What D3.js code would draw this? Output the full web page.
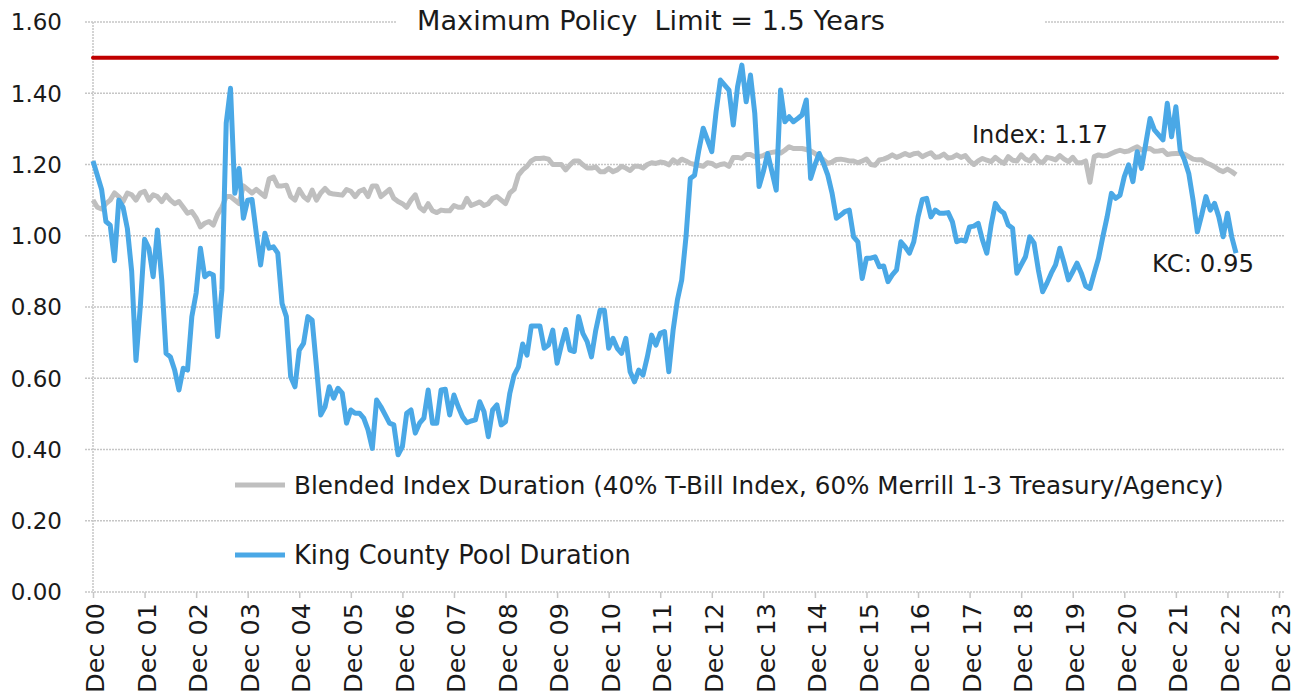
<!DOCTYPE html>
<html>
<head>
<meta charset="utf-8">
<script src="https://cdn.jsdelivr.net/npm/d3@7"></script>
<style>
  body { margin: 0; background: #fff; }
  text { font-family: "DejaVu Sans", "Liberation Sans", sans-serif; fill: #1a1a1a; }
</style>
</head>
<body>
<svg id="chart"></svg>
<script>
// monthly durations, Dec 2000 .. Feb 2023 (one row per year, Dec..Nov)
let kcDuration = [
  1.21, 1.17, 1.13, 1.04, 1.03, 0.93, 1.10, 1.08, 1.02, 0.90, 0.65, 0.80,
  0.99, 0.965, 0.885, 1.016, 0.876, 0.67, 0.66, 0.623, 0.567, 0.628, 0.623, 0.773,
  0.839, 0.965, 0.885, 0.895, 0.89, 0.717, 0.848, 1.316, 1.414, 1.119, 1.189, 1.049,
  1.10, 1.102, 1.007, 0.918, 1.007, 0.965, 0.969, 0.951, 0.81, 0.773, 0.604, 0.576,
  0.679, 0.698, 0.773, 0.763, 0.632, 0.497, 0.52, 0.576, 0.544, 0.572, 0.558, 0.474,
  0.511, 0.502, 0.502, 0.488, 0.455, 0.403, 0.539, 0.52, 0.497, 0.474, 0.469, 0.385,
  0.408, 0.502, 0.511, 0.446, 0.474, 0.488, 0.567, 0.474, 0.474, 0.567, 0.569, 0.497,
  0.553, 0.52, 0.492, 0.475, 0.48, 0.483, 0.534, 0.506, 0.436, 0.511, 0.525, 0.469,
  0.478, 0.558, 0.609, 0.632, 0.696, 0.665, 0.747, 0.747, 0.747, 0.684, 0.693, 0.735,
  0.642, 0.693, 0.737, 0.679, 0.675, 0.773, 0.726, 0.703, 0.66, 0.735, 0.791, 0.791,
  0.684, 0.712, 0.684, 0.67, 0.712, 0.618, 0.59, 0.623, 0.609, 0.66, 0.721, 0.693,
  0.726, 0.731, 0.618, 0.735, 0.82, 0.876, 0.997, 1.161, 1.17, 1.241, 1.302, 1.269,
  1.236, 1.348, 1.437, 1.423, 1.409, 1.311, 1.418, 1.479, 1.376, 1.451, 1.344, 1.138,
  1.18, 1.231, 1.18, 1.128, 1.409, 1.32, 1.334, 1.32, 1.329, 1.339, 1.381, 1.161,
  1.199, 1.231, 1.203, 1.17, 1.119, 1.049, 1.058, 1.068, 1.072, 0.997, 0.983, 0.88,
  0.937, 0.937, 0.941, 0.913, 0.915, 0.871, 0.89, 0.904, 0.983, 0.969, 0.951, 0.983,
  1.053, 1.102, 1.105, 1.053, 1.072, 1.063, 1.063, 1.065, 1.039, 0.983, 0.988, 0.985,
  1.025, 1.027, 1.035, 0.988, 0.951, 1.03, 1.091, 1.072, 1.063, 1.03, 1.021, 0.895,
  0.918, 0.941, 0.997, 0.979, 0.904, 0.843, 0.867, 0.895, 0.918, 0.965, 0.923, 0.876,
  0.899, 0.923, 0.895, 0.859, 0.852, 0.895, 0.937, 0.997, 1.053, 1.119, 1.105, 1.114,
  1.166, 1.199, 1.152, 1.236, 1.189, 1.259, 1.329, 1.297, 1.283, 1.269, 1.372, 1.278,
  1.362, 1.241, 1.213, 1.175, 1.10, 1.011, 1.058, 1.11, 1.072, 1.091, 1.053, 0.997,
  1.063, 0.997, 0.951
];

let indexDuration = [
  1.10, 1.08, 1.075, 1.09, 1.10, 1.12, 1.11, 1.096, 1.12, 1.115, 1.10, 1.12,
  1.125, 1.10, 1.115, 1.11, 1.096, 1.114, 1.10, 1.09, 1.096, 1.08, 1.063, 1.068,
  1.05, 1.025, 1.035, 1.04, 1.03, 1.06, 1.08, 1.11, 1.11, 1.10, 1.09, 1.14,
  1.13, 1.12, 1.13, 1.12, 1.11, 1.16, 1.165, 1.14, 1.14, 1.142, 1.11, 1.10,
  1.13, 1.11, 1.10, 1.128, 1.10, 1.12, 1.133, 1.12, 1.117, 1.116, 1.114, 1.13,
  1.125, 1.11, 1.125, 1.13, 1.11, 1.14, 1.14, 1.11, 1.12, 1.13, 1.105, 1.096,
  1.09, 1.08, 1.10, 1.115, 1.08, 1.07, 1.09, 1.07, 1.065, 1.072, 1.07, 1.07,
  1.085, 1.08, 1.08, 1.105, 1.085, 1.09, 1.095, 1.085, 1.09, 1.105, 1.11, 1.10,
  1.09, 1.12, 1.13, 1.17, 1.185, 1.195, 1.21, 1.217, 1.217, 1.218, 1.215, 1.20,
  1.20, 1.20, 1.185, 1.199, 1.21, 1.21, 1.199, 1.19, 1.19, 1.193, 1.18, 1.18,
  1.189, 1.18, 1.185, 1.195, 1.19, 1.183, 1.195, 1.195, 1.19, 1.20, 1.205, 1.203,
  1.207, 1.205, 1.199, 1.213, 1.204, 1.215, 1.21, 1.203, 1.20, 1.198, 1.195, 1.205,
  1.203, 1.195, 1.20, 1.202, 1.195, 1.22, 1.22, 1.217, 1.228, 1.228, 1.222, 1.222,
  1.225, 1.231, 1.234, 1.236, 1.232, 1.24, 1.25, 1.245, 1.245, 1.245, 1.242, 1.238,
  1.231, 1.222, 1.213, 1.203, 1.207, 1.214, 1.215, 1.213, 1.21, 1.21, 1.205, 1.21,
  1.215, 1.20, 1.198, 1.213, 1.215, 1.22, 1.227, 1.22, 1.225, 1.231, 1.225, 1.23,
  1.232, 1.222, 1.228, 1.233, 1.22, 1.222, 1.229, 1.218, 1.22, 1.227, 1.22, 1.225,
  1.21, 1.20, 1.21, 1.217, 1.212, 1.208, 1.22, 1.21, 1.203, 1.222, 1.212, 1.21,
  1.227, 1.215, 1.21, 1.225, 1.21, 1.205, 1.22, 1.217, 1.213, 1.225, 1.215, 1.208,
  1.22, 1.205, 1.205, 1.21, 1.15, 1.222, 1.227, 1.224, 1.225, 1.231, 1.236, 1.24,
  1.236, 1.238, 1.244, 1.25, 1.241, 1.244, 1.245, 1.237, 1.238, 1.24, 1.228, 1.23,
  1.231, 1.231, 1.229, 1.222, 1.215, 1.213, 1.213, 1.205, 1.20, 1.194, 1.185, 1.18,
  1.187, 1.18, 1.171
];

let policyLimit = 1.5;

let yearLabels = [
  "Dec 00", "Dec 01", "Dec 02", "Dec 03", "Dec 04", "Dec 05", "Dec 06", "Dec 07",
  "Dec 08", "Dec 09", "Dec 10", "Dec 11", "Dec 12", "Dec 13", "Dec 14", "Dec 15",
  "Dec 16", "Dec 17", "Dec 18", "Dec 19", "Dec 20", "Dec 21", "Dec 22", "Dec 23"
];

let yTicks = [0, 0.2, 0.4, 0.6, 0.8, 1.0, 1.2, 1.4, 1.6];

let titleText = "Maximum Policy  Limit = 1.5 Years";
let indexLegend = "Blended Index Duration (40% T-Bill Index, 60% Merrill 1-3 Treasury/Agency)";
let kcLegend = "King County Pool Duration";

let width = 1304, height = 699;
let svg = d3.select("#chart").attr("width", width).attr("height", height);

let x = d3.scaleLinear().domain([0, (yearLabels.length - 1) * 12]).range([93, 1279]);
let y = d3.scaleLinear().domain([0, 1.6]).range([592, 22]);

let gridColor = "#c6c6c6";
let blue = "#4aa8e6";
let grey = "#bfbfbf";

// shrink/grow a text's font until it spans the wanted width
let fitWidth = function(sel, w) {
  let len = sel.node().getComputedTextLength();
  let fs = parseFloat(sel.attr("font-size"));
  sel.attr("font-size", (fs * w) / len);
};

// horizontal grid
svg.append("g")
  .selectAll("line")
  .data(yTicks)
  .join("line")
  .attr("x1", 85)
  .attr("x2", 1285)
  .attr("y1", d => y(d))
  .attr("y2", d => y(d))
  .attr("stroke", gridColor)
  .attr("stroke-width", 1.5)
  .attr("stroke-dasharray", "2,1");

// vertical axis line
svg.append("line")
  .attr("x1", x(0)).attr("x2", x(0))
  .attr("y1", y(1.6)).attr("y2", y(0))
  .attr("stroke", gridColor)
  .attr("stroke-width", 1.5)
  .attr("stroke-dasharray", "2,1");

// x axis ticks
let xAxis = d3.axisBottom(x)
  .tickValues(d3.range(yearLabels.length).map(i => i * 12))
  .tickFormat("")
  .tickSize(6)
  .tickSizeOuter(0);

let xg = svg.append("g").attr("transform", `translate(0,${y(0)})`).call(xAxis);
xg.select(".domain").remove();
xg.selectAll(".tick line").attr("stroke", gridColor).attr("stroke-width", 1.5);

// x labels, rotated
svg.append("g")
  .selectAll("text")
  .data(yearLabels)
  .join("text")
  .attr("transform", (d, i) => `translate(${x(i * 12) + 2},603) rotate(-90)`)
  .attr("text-anchor", "end")
  .attr("dy", "0.36em")
  .attr("font-size", 22)
  .text(d => d)
  .each(function() {
    fitWidth(d3.select(this), 90);
  });

// y labels
svg.append("g")
  .selectAll("text")
  .data(yTicks)
  .join("text")
  .attr("x", 62)
  .attr("y", d => y(d))
  .attr("dy", "0.36em")
  .attr("text-anchor", "end")
  .attr("font-size", 23)
  .text(d => d3.format(".2f")(d));

// title sits over the top gridline
svg.append("rect")
  .attr("x", 397)
  .attr("y", 4)
  .attr("width", 648)
  .attr("height", 36)
  .attr("fill", "#fff");

let title = svg.append("text")
  .attr("x", 651)
  .attr("y", 30)
  .attr("text-anchor", "middle")
  .attr("font-size", 26)
  .style("white-space", "pre")
  .attr("xml:space", "preserve")
  .text(titleText);
fitWidth(title, 468);

let line = d3.line()
  .x((d, i) => x(i))
  .y(d => y(d));

svg.append("path")
  .datum(indexDuration)
  .attr("d", line)
  .attr("fill", "none")
  .attr("stroke", grey)
  .attr("stroke-width", 5)
  .attr("stroke-linejoin", "round");

svg.append("path")
  .datum(kcDuration)
  .attr("d", line)
  .attr("fill", "none")
  .attr("stroke", blue)
  .attr("stroke-width", 5)
  .attr("stroke-linejoin", "round");

// policy limit
svg.append("line")
  .attr("x1", x(0))
  .attr("x2", 1277)
  .attr("y1", y(policyLimit))
  .attr("y2", y(policyLimit))
  .attr("stroke", "#c00000")
  .attr("stroke-width", 4)
  .attr("stroke-linecap", "round");

// end labels
let idxLabel = svg.append("text")
  .attr("x", 972)
  .attr("y", 134)
  .attr("dy", "0.36em")
  .attr("font-size", 22)
  .text("Index: " + d3.format(".2f")(indexDuration[indexDuration.length - 1]));
fitWidth(idxLabel, 136);

let kcLabel = svg.append("text")
  .attr("x", 1152)
  .attr("y", 263)
  .attr("dy", "0.36em")
  .attr("font-size", 22)
  .text("KC: " + d3.format(".2f")(kcDuration[kcDuration.length - 1]));
fitWidth(kcLabel, 102);

// legend
let legendItems = [
  { label: indexLegend, color: grey, y: 485, w: 930 },
  { label: kcLegend, color: blue, y: 555, w: 337 }
];

let legend = svg.append("g")
  .selectAll("g")
  .data(legendItems)
  .join("g");

legend.append("line")
  .attr("x1", 235)
  .attr("x2", 285)
  .attr("y1", d => d.y)
  .attr("y2", d => d.y)
  .attr("stroke", d => d.color)
  .attr("stroke-width", 5);

legend.append("text")
  .attr("x", 294)
  .attr("y", d => d.y)
  .attr("dy", "0.36em")
  .attr("font-size", 22)
  .text(d => d.label)
  .each(function(d) {
    fitWidth(d3.select(this), d.w);
  });
</script>
</body>
</html>
